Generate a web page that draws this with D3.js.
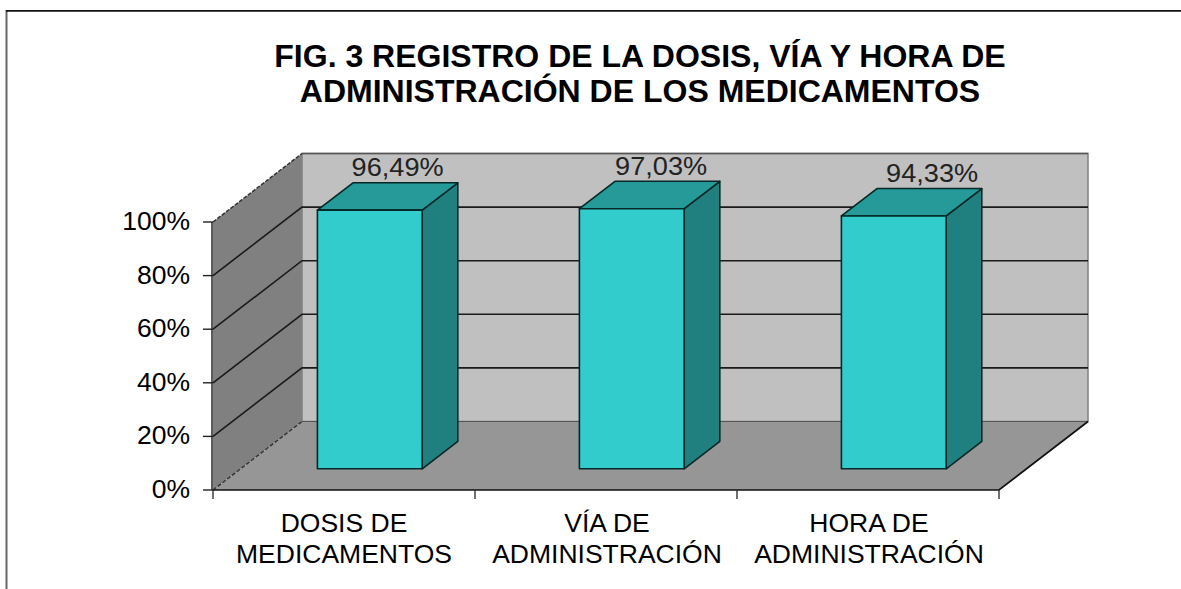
<!DOCTYPE html>
<html><head><meta charset="utf-8">
<script src="https://cdnjs.cloudflare.com/ajax/libs/d3/7.8.5/d3.min.js"></script>
<style>html,body{margin:0;padding:0;background:#fff}svg{display:block}text{font-family:"Liberation Sans",Arial,sans-serif;fill:#000}</style>
</head><body><script>
const categories=[["DOSIS DE","MEDICAMENTOS"],["VÍA DE","ADMINISTRACIÓN"],["HORA DE","ADMINISTRACIÓN"]];
const catKeys=["dosis","via","hora"];
const values=[96.49,97.03,94.33];
const valueLabels=["96,49%","97,03%","94,33%"];
const ticks=[0,20,40,60,80,100];
const titleLines=["FIG. 3 REGISTRO DE LA DOSIS, VÍA Y HORA DE","ADMINISTRACIÓN DE LOS MEDICAMENTOS"];
const labelNudge=[11,12.5,21.5];

const W=1181,H=589;
const svg=d3.select("body").append("svg").attr("width",W).attr("height",H);
const x=d3.scaleBand().domain(catKeys).range([213,999]).paddingInner(0.6).paddingOuter(0.3);
const y=d3.scaleLinear().domain([0,100]).range([490,222]);
const DX=89,DY=-68.5,dx0=0.29,dx1=0.69,dy0=0.31,dy1=0.71;
const path=p=>"M"+p.map(a=>a.join(",")).join("L")+"Z";
const [x0,x1]=x.range();const yb=y(0),yt=y(100);

svg.append("path").attr("d",`M6.5,${H}V10`).attr("fill","none").attr("stroke","#666").attr("stroke-width",2);
svg.append("path").attr("d",`M6,10.8H${W}`).attr("fill","none").attr("stroke","#111").attr("stroke-width",1.8);

svg.append("path").attr("d",path([[x0+DX,yb+DY],[x1+DX,yb+DY],[x1+DX,yt+DY],[x0+DX,yt+DY]])).attr("fill","#c0c0c0").attr("stroke","#808080").attr("stroke-width",1.5);
svg.append("path").attr("d",path([[x0,yb],[x0+DX,yb+DY],[x0+DX,yt+DY],[x0,yt]])).attr("fill","#808080");
svg.append("path").attr("d",path([[x0,yb],[x1,yb],[x1+DX,yb+DY],[x0+DX,yb+DY]])).attr("fill","#969696");

ticks.forEach(t=>{
  const gy=y(t);
  if(t>0&&t<100) svg.append("path").attr("d",`M${x0},${gy}L${x0+DX},${gy+DY}H${x1+DX}`).attr("fill","none").attr("stroke","#1a1a1a").attr("stroke-width",1.6);
});
svg.append("path").attr("d",`M${x0},${yt}L${x0+DX},${yt+DY}`).attr("fill","none").attr("stroke","#333").attr("stroke-width",1.5).attr("stroke-dasharray","4,1.5");
svg.append("path").attr("d",`M${x0+DX},${yt+DY}H${x1+DX}`).attr("fill","none").attr("stroke","#555").attr("stroke-width",1.6);
svg.append("path").attr("d",`M${x0},${yb}L${x0+DX},${yb+DY}`).attr("fill","none").attr("stroke","#333").attr("stroke-width",1.4).attr("stroke-dasharray","4,2");
svg.append("path").attr("d",`M${x0+DX},${yb+DY}H${x1+DX}`).attr("fill","none").attr("stroke","#555").attr("stroke-width",1.2);
svg.append("path").attr("d",`M${x0},${yb}H${x1}L${x1+DX},${yb+DY}`).attr("fill","none").attr("stroke","#111").attr("stroke-width",1.7);

svg.append("path").attr("d",`M${x0-1},${yt}V${yb}`).attr("stroke","#333").attr("stroke-width",1.6);
const edges=[x0,...catKeys.map((c,i)=>x0+(x1-x0)*(i+1)/catKeys.length)];
edges.forEach(e=>svg.append("path").attr("d",`M${e},${yb}V${yb+9}`).attr("stroke","#333").attr("stroke-width",1.4));
ticks.forEach(t=>svg.append("path").attr("d",`M${x0-10},${y(t)}H${x0}`).attr("stroke","#222").attr("stroke-width",1.4));
svg.selectAll(".yl").data(ticks).enter().append("text").attr("class","yl")
  .attr("x",190).attr("y",t=>y(t)+8).attr("text-anchor","end").attr("font-size",26.5).text(t=>t+"%");

catKeys.forEach((c,i)=>{
  const a=x(c),b=a+x.bandwidth();
  const base=yb,top=y(values[i]);
  const fx=dx0*DX,fy=dy0*DY,bx=dx1*DX,by=dy1*DY;
  const g=svg.append("g").attr("stroke","#052826").attr("stroke-width",1.6).attr("stroke-linejoin","round");
  g.append("path").attr("d",path([[b+fx,base+fy],[b+bx,base+by],[b+bx,top+by],[b+fx,top+fy]])).attr("fill","#208080");
  g.append("path").attr("d",path([[a+fx,top+fy],[b+fx,top+fy],[b+bx,top+by],[a+bx,top+by]])).attr("fill","#269999");
  g.append("path").attr("d",path([[a+fx,base+fy],[b+fx,base+fy],[b+fx,top+fy],[a+fx,top+fy]])).attr("fill","#33cccc");
  svg.append("text").attr("x",(a+b)/2+(fx+bx)/2-1+labelNudge[i]).attr("y",top+by-6.5).attr("text-anchor","middle")
    .attr("font-size",25).style("fill","#222").attr("textLength",92).attr("lengthAdjust","spacingAndGlyphs").text(valueLabels[i]);
  categories[i].forEach((ln,k)=>{
    svg.append("text").attr("x",(a+b)/2+(i?1:0)).attr("y",532+k*30.5).attr("text-anchor","middle").attr("font-size",26.5).text(ln);
  });
});

titleLines.forEach((t,i)=>svg.append("text").attr("x",640).attr("y",67+i*34.5).attr("text-anchor","middle")
  .attr("font-size",32).attr("font-weight","bold").text(t));
</script></body></html>
